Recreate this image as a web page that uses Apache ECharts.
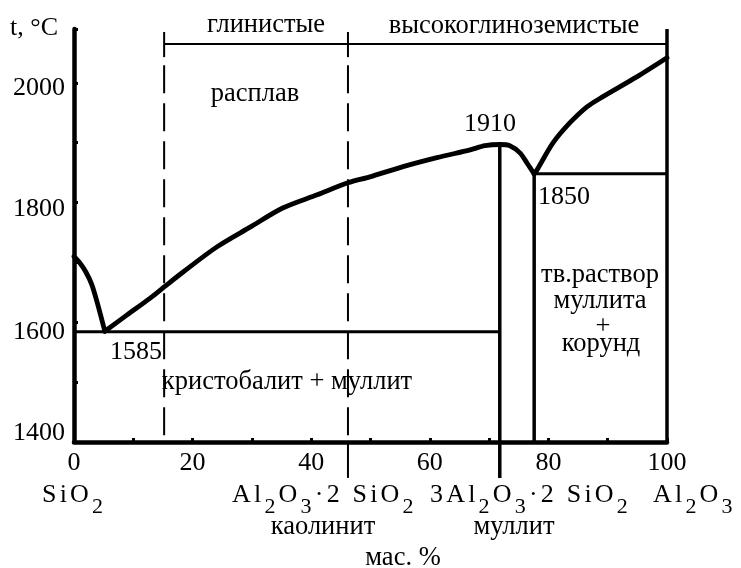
<!DOCTYPE html>
<html>
<head>
<meta charset="utf-8">
<script src="https://cdn.jsdelivr.net/npm/echarts@6/dist/echarts.min.js"></script>
<style>html,body{margin:0;padding:0;background:#fff;}#c{width:741px;height:568px;}</style>
</head>
<body>
<div id="c"></div>
<script>
// ---- data (mass % Al2O3, temperature °C) ----
var xTicks = [0, 20, 40, 60, 80, 100];
var yTicks = [1400, 1600, 1800, 2000];
var liquidusSiO2 = [[0,1710],[1,1699],[2,1684],[3,1663],[4,1630],[5.2,1585]];
var liquidusMullite = [[5.2,1585],[8.9,1612],[12.8,1640],[15.2,1659],[18.4,1684],[24.1,1726],[29.7,1759],[35.2,1791],[41.0,1813],[46.2,1833],[49.9,1843],[55.5,1860],[61.2,1875],[66.8,1888],[69.3,1895],[71.8,1897],[73.5,1895],[75.2,1883],[76.4,1866],[77.6,1848]];
var liquidusAl2O3 = [[77.6,1848],[78.1,1855],[80.8,1900],[83.6,1933],[86.5,1960],[89.2,1977],[94.9,2010],[100,2042]];
var eutecticT1 = 1584;      // 1585 °C
var eutecticT2 = 1848;      // 1850 °C
var peakT = 1897;           // 1910 °C
var mulliteX = 71.8;        // 3Al2O3·2SiO2
var solidusX2 = 77.6;
var kaoliniteX = 46.2;      // Al2O3·2SiO2
var clayX = 15.2;
var bracketT = 2065;
var tickTop = 2085, tickBottom = 2043;
var belowAxisT = 1340;
var yMin = 1400, yMax = 2090;
var regionNames = ['глинистые', 'высокоглиноземистые'];
var phaseNames = ['расплав', 'кристобалит + муллит', 'тв.раствор', 'муллита', '+', 'корунд'];
var pointLabels = ['1910', '1850', '1585'];
var mineralNames = ['каолинит', 'муллит'];
var formulas = ['SiO_2', 'Al_2O_3·2 SiO_2', '3Al_2O_3·2 SiO_2', 'Al_2O_3'];

var FONT = 'Liberation Serif';
var chart = echarts.init(document.getElementById('c'), null, {renderer: 'canvas'});

function seg(data, width, dash, offset) {
  return {
    type: 'line', data: data, symbol: 'none', clip: false, silent: true,
    lineStyle: {color: '#000', width: width, type: dash || 'solid', dashOffset: offset || 0, cap: 'butt'},
    z: 3
  };
}
function curve(data) {
  return {
    type: 'line', data: data, symbol: 'none', clip: false, silent: true, smooth: 0.3,
    lineStyle: {color: '#000', width: 4.8, cap: 'round', join: 'round'}, z: 4
  };
}

var series = [
  curve(liquidusSiO2),
  curve(liquidusMullite),
  curve(liquidusAl2O3),
  seg([[0, eutecticT1], [mulliteX, eutecticT1]], 3),
  seg([[mulliteX, peakT], [mulliteX, belowAxisT]], 3.5),
  seg([[solidusX2, eutecticT2], [solidusX2, yMin]], 3.5),
  seg([[solidusX2, eutecticT2], [100, eutecticT2]], 3),
  seg([[100, yMax], [100, yMin]], 3.5),
  seg([[clayX, bracketT], [100, bracketT]], 2),
  seg([[clayX, tickTop], [clayX, tickBottom]], 2),
  seg([[kaoliniteX, tickTop], [kaoliniteX, tickBottom]], 2),
  seg([[clayX, tickBottom], [clayX, yMin]], 2, [28, 10], 30),
  seg([[kaoliniteX, tickBottom], [kaoliniteX, yMin]], 2, [28, 10], 30),
  seg([[kaoliniteX, yMin], [kaoliniteX, belowAxisT]], 2)
];

function txt(x, y, s, size, align) {
  return {type: 'text', x: x, y: y, silent: true, z: 10,
    style: {text: s, fill: '#000', font: (size || 26.5) + 'px "' + FONT + '"', align: align || 'center', verticalAlign: 'middle'}};
}
// formula text: '_' marks the next character as a subscript; each glyph gets extra spacing
function formula(x, y, spec) {
  var out = '';
  for (var i = 0; i < spec.length; i++) {
    var c = spec[i];
    if (c === '_') { out += '{s|' + spec[i + 1] + '}'; i++; }
    else out += '{a|' + c + '}';
  }
  return {type: 'text', x: x, y: y, silent: true, z: 10,
    style: {text: out, fill: '#000', align: 'left', verticalAlign: 'top',
      rich: {
        a: {fontFamily: FONT, fontSize: 26, lineHeight: 26, verticalAlign: 'top', padding: [0, 3.2, 0, 0], fill: '#000'},
        s: {fontFamily: FONT, fontSize: 22, lineHeight: 22, verticalAlign: 'top', padding: [14, 3.2, 0, 0], fill: '#000'}
      }}};
}

var graphics = [
  txt(34, 28, 't, °C', 26),
  txt(266, 25, regionNames[0]),
  txt(514, 26, regionNames[1]),
  txt(255, 94, phaseNames[0]),
  txt(287, 382, phaseNames[1]),
  txt(600, 275, phaseNames[2]),
  txt(600, 301, phaseNames[3]),
  txt(603, 327, phaseNames[4]),
  txt(601, 344, phaseNames[5]),
  txt(490, 124, pointLabels[0], 26),
  txt(564, 197, pointLabels[1], 26),
  txt(136, 352, pointLabels[2], 26),
  txt(323, 527, mineralNames[0]),
  txt(514, 527, mineralNames[1]),
  txt(403, 558, 'мас. %'),
  formula(42, 482, formulas[0]),
  formula(232, 482, formulas[1]),
  formula(430, 482, formulas[2]),
  formula(653, 482, formulas[3])
];

var yLabelStyle = {fontFamily: FONT, fontSize: 26, color: '#000'};
var option = {
  animation: false,
  backgroundColor: '#fff',
  grid: {left: 74, right: 74, top: 29, bottom: 126},
  xAxis: {
    type: 'value', min: 0, max: 100, interval: 10,
    axisLine: {show: true, onZero: false, lineStyle: {color: '#000', width: 4.5}},
    axisTick: {show: true, inside: true, length: 4, lineStyle: {color: '#000', width: 3}},
    axisLabel: {color: '#000', fontFamily: FONT, fontSize: 26, margin: 8,
      formatter: function (v) { return xTicks.indexOf(v) >= 0 ? String(v) : ''; }},
    splitLine: {show: false}
  },
  yAxis: {
    type: 'value', min: yMin, max: yMax, interval: 100,
    axisLine: {show: true, onZero: false, lineStyle: {color: '#000', width: 4.5}},
    axisTick: {show: true, inside: true, length: 4, lineStyle: {color: '#000', width: 3}},
    axisLabel: {color: '#000', fontFamily: FONT, fontSize: 26, margin: 9,
      formatter: function (v) {
        if (yTicks.indexOf(v) < 0) return '';
        return '{t' + v + '|' + v + '}';
      },
      rich: {
        t1400: Object.assign({padding: [0, 0, 18, 0]}, yLabelStyle),
        t1600: Object.assign({padding: [20, 0, 0, 0]}, yLabelStyle),
        t1800: Object.assign({padding: [14, 0, 0, 0]}, yLabelStyle),
        t2000: Object.assign({padding: [10, 0, 0, 0]}, yLabelStyle)
      }},
    splitLine: {show: false}
  },
  series: series,
  graphic: graphics
};
chart.setOption(option);
</script>
</body>
</html>
